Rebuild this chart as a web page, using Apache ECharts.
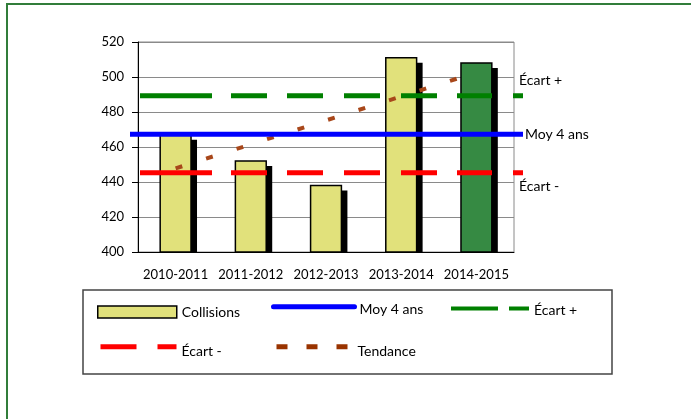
<!DOCTYPE html>
<html>
<head>
<meta charset="utf-8">
<script src="https://cdn.jsdelivr.net/npm/echarts@6/dist/echarts.min.js"></script>
<style>
html, body { margin: 0; padding: 0; background: #fff; }
#chart { width: 691px; height: 419px; }
</style>
</head>
<body>
<div id="chart"></div>
<script>
// données
const seasons = ['2010-2011', '2011-2012', '2012-2013', '2013-2014', '2014-2015'];
const collisions = [467, 452, 438, 511, 508];
const tendance = [447.8, 461.5, 475.2, 488.9, 502.6];
const moy4ans = [467.3, 467.3];
const ecartPlus = [489.3, 489.3];
const ecartMoins = [445.3, 445.3];
const yTicks = [400, 420, 440, 460, 480, 500, 520];

// styles
const FONT = 'Lato, "Liberation Sans", sans-serif';
const barColors = ['#e1e17b', '#e1e17b', '#e1e17b', '#e1e17b', '#368a43'];
const dashLong = [72, 19, 36, 20, 36, 21, 36, 21, 36, 20, 35, 21, 20];

const chart = echarts.init(document.getElementById('chart'));

function renderBar(params, api) {
  const top = api.coord([api.value(0), api.value(1)]);
  const base = api.coord([api.value(0), yTicks[0]]);
  const w = api.size([1, 0])[0] * 0.41;
  const h = base[1] - top[1];
  return {
    type: 'group',
    children: [
      { type: 'rect', shape: { x: top[0] - w / 2 + 6, y: top[1] + 5, width: w, height: h - 5 }, style: { fill: '#000' } },
      { type: 'rect', shape: { x: top[0] - w / 2, y: top[1], width: w, height: h },
        style: { fill: barColors[params.dataIndex], stroke: '#000', lineWidth: 1.5 } }
    ]
  };
}

// une ligne horizontale sur un axe x caché 0..1
function flat(vals) {
  return vals.map((v, i) => [i, v]);
}

const axisText = { fontFamily: FONT, fontSize: 13, color: '#000' };
const labelStyle = { fontFamily: FONT, fontSize: 14, color: '#000' };

// une légende par entrée, placée comme dans Excel
function legendItem(name, left, top, width, extra, shiftY, shiftX) {
  return {
    data: [Object.assign({ name: name }, extra)],
    left: left, top: top, padding: 0,
    itemWidth: width, itemHeight: 12,
    selectedMode: false,
    formatter: '{t|{name}}',
    textStyle: {
      rich: { t: Object.assign({}, labelStyle, { padding: [shiftY, 0, 0, shiftX] }) }
    }
  };
}

const option = {
  animation: false,
  backgroundColor: '#fff',
  textStyle: { fontFamily: FONT },
  grid: [
    { left: 138, right: 177, top: 42, bottom: 167, show: true, borderColor: '#8a8a8a', borderWidth: 1 },
    { left: 130, right: 168, top: 42, bottom: 167 },
    { left: 140, right: 168, top: 42, bottom: 167 }
  ],
  xAxis: [
    {
      type: 'category', data: seasons, gridIndex: 0,
      axisLine: { lineStyle: { color: '#000', width: 1 } },
      axisTick: { length: 6, lineStyle: { color: '#000' } },
      axisLabel: Object.assign({ margin: 16, interval: 0 }, axisText)
    },
    { type: 'value', gridIndex: 1, min: 0, max: 1, show: false },
    { type: 'value', gridIndex: 2, min: 0, max: 1, show: false }
  ],
  yAxis: [
    {
      type: 'value', gridIndex: 0,
      min: yTicks[0], max: yTicks[yTicks.length - 1], interval: yTicks[1] - yTicks[0],
      axisLine: { show: true, lineStyle: { color: '#000', width: 1 } },
      axisTick: { show: true, length: 6, lineStyle: { color: '#000' } },
      axisLabel: Object.assign({ margin: 14 }, axisText),
      splitLine: { lineStyle: { color: '#8a8a8a', width: 1 } }
    },
    { type: 'value', gridIndex: 1, min: yTicks[0], max: yTicks[yTicks.length - 1], show: false },
    { type: 'value', gridIndex: 2, min: yTicks[0], max: yTicks[yTicks.length - 1], show: false }
  ],
  legend: [
    legendItem('Collisions', 97, 305, 79, { icon: 'rect', itemStyle: { color: '#e1e17b', borderColor: '#000', borderWidth: 1.5 } }, 0, 0),
    legendItem('Moy 4 ans', 271, 302, 81, { lineStyle: { width: 5, cap: 'round', color: '#0000ff' }, itemStyle: { opacity: 0 } }, 5, 0),
    legendItem('Écart +', 449, 303, 78, { lineStyle: { width: 4, type: [47, 11, 20], color: '#008000' }, itemStyle: { opacity: 0 } }, 3, 0),
    legendItem('Écart -', 98, 342, 76, { lineStyle: { width: 5, type: [36, 21, 20], color: '#ff0000' }, itemStyle: { opacity: 0 } }, 9, 0),
    legendItem('Tendance', 274, 342, 72, { lineStyle: { width: 5, type: [11, 19], color: '#993300' }, itemStyle: { opacity: 0 } }, 9, 4)
  ],
  graphic: [
    { type: 'rect', shape: { x: 7, y: 4, width: 720, height: 440 }, style: { fill: 'none', stroke: '#317d3a', lineWidth: 2 }, silent: true },
    { type: 'rect', shape: { x: 83, y: 290, width: 529, height: 84 }, style: { fill: 'none', stroke: '#444', lineWidth: 1.5 }, silent: true }
  ],
  series: [
    {
      name: 'Collisions', type: 'custom', xAxisIndex: 0, yAxisIndex: 0,
      itemStyle: { color: '#e1e17b' },
      renderItem: renderBar,
      data: collisions.map((v, i) => [i, v])
    },
    {
      name: 'Tendance', type: 'line', xAxisIndex: 0, yAxisIndex: 0,
      data: tendance, symbol: 'none', z: 4,
      lineStyle: { color: '#a8471a', width: 4, type: [7, 25], dashOffset: 0 }
    },
    {
      name: 'Moy 4 ans', type: 'line', xAxisIndex: 1, yAxisIndex: 1,
      data: flat(moy4ans), symbol: 'none', z: 4,
      lineStyle: { color: '#0000ff', width: 5 },
      endLabel: Object.assign({ show: true, formatter: '{a}', distance: 0, offset: [2, 0] }, labelStyle)
    },
    {
      name: 'Écart +', type: 'line', xAxisIndex: 2, yAxisIndex: 2,
      data: flat(ecartPlus), symbol: 'none', z: 4,
      lineStyle: { color: '#008000', width: 5, type: dashLong },
      endLabel: Object.assign({ show: true, formatter: '{a}', distance: 0, offset: [-4, -15] }, labelStyle)
    },
    {
      name: 'Écart -', type: 'line', xAxisIndex: 2, yAxisIndex: 2,
      data: flat(ecartMoins), symbol: 'none', z: 4,
      lineStyle: { color: '#ff0000', width: 5, type: dashLong },
      endLabel: Object.assign({ show: true, formatter: '{a}', distance: 0, offset: [-4, 14] }, labelStyle)
    }
  ]
};

chart.setOption(option);
</script>
</body>
</html>
